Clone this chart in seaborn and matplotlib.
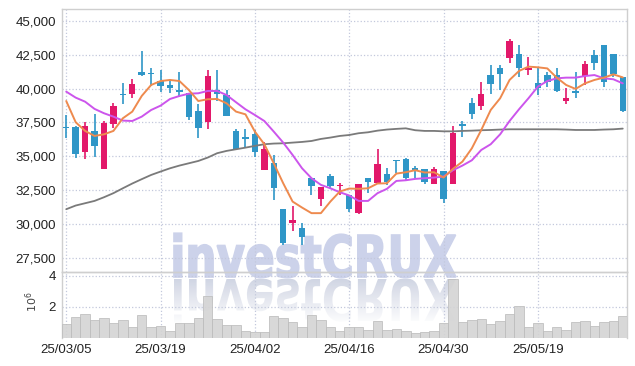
import numpy as np
import pandas as pd
import seaborn as sns
import matplotlib.pyplot as plt
from matplotlib.ticker import FuncFormatter, FixedLocator
from matplotlib.textpath import TextPath
from matplotlib.font_manager import FontProperties
from matplotlib.patches import PathPatch
from matplotlib.transforms import Affine2D

# daily candles, 2025-03-05 .. 2025-05-30 (trading days)
opens = [37150, 37150, 35360, 36880, 34060, 37370, 39570, 39570, 41210, 41120,
         40550, 40280, 39920, 39670, 38350, 37560, 39890, 39520, 36880, 36440,
         36660, 34040, 34530, 31150, 30140, 29720, 33400, 31860, 33550, 32810,
         32170, 30830, 33400, 33080, 33690, 34700, 34820, 34130, 34090, 33010,
         33940, 33010, 37370, 38910, 38720, 40990, 41480, 42270, 42510, 41340,
         40380, 40990, 40990, 39110, 39790, 40920, 42460, 43200, 42540, 40850]
closes = [37100, 35160, 37250, 35800, 37470, 38740, 39520, 40330, 40990, 41070,
          40210, 40060, 39770, 37930, 37120, 40920, 39570, 38000, 35580, 36270,
          35310, 35560, 32660, 28620, 30340, 29110, 32860, 32760, 32860, 32910,
          31150, 32960, 33150, 34450, 33150, 34650, 33400, 33990, 33150, 34090,
          31860, 36710, 37250, 38150, 39600, 40310, 41090, 43490, 41480, 41480,
          40060, 40500, 39820, 39280, 39670, 41800, 41900, 40500, 41070, 38350]
highs = [38050, 37250, 37560, 38150, 37610, 38910, 40430, 40680, 42760, 41480,
         41360, 40630, 41240, 39700, 38840, 41360, 41360, 39890, 37000, 37000,
         36950, 36050, 35110, 31150, 31320, 30090, 33450, 32760, 33690, 33080,
         32170, 32960, 33400, 35530, 34180, 34700, 34870, 34330, 34090, 34260,
         33940, 37270, 37610, 39330, 40500, 41730, 41730, 43640, 43200, 42340,
         41480, 41240, 41480, 40060, 41190, 42020, 42830, 43200, 42540, 40850]
lows = [36340, 34870, 34820, 34940, 34060, 37070, 38840, 39280, 40950, 40210,
        39720, 39650, 39400, 37660, 36340, 37030, 39080, 38000, 35580, 35730,
        34990, 34040, 31780, 28500, 29480, 28500, 32170, 31320, 32660, 32170,
        30950, 30750, 32300, 33080, 32910, 33770, 33280, 33450, 32960, 32960,
        31560, 33010, 36460, 37760, 38420, 39600, 39890, 41850, 40850, 40990,
        39520, 40140, 39720, 38840, 39280, 40260, 41360, 40090, 40870, 38300]

ma5 = [39080, 37520, 36880, 36510, 36630, 36880, 37810, 38300, 39450, 40260,
       40550, 40630, 40550, 39890, 39080, 39210, 39230, 38910, 38300, 38100,
       36830, 35900, 34500, 33030, 31680, 31240, 30830, 30830, 31680, 32420,
       32640, 32620, 32660, 33010, 33030, 33740, 33840, 33990, 33820, 33840,
       33450, 34090, 34620, 35600, 36950, 38420, 39280, 40630, 41290, 41610,
       41560, 41480, 40800, 40260, 39970, 40380, 40630, 40800, 41040, 40820]
ma20 = [39770, 39330, 39030, 38500, 38180, 37930, 37640, 37610, 37930, 38420,
        38740, 39230, 39450, 39620, 39650, 39820, 39820, 39520, 38990, 38470,
        38050, 37610, 36830, 36020, 35110, 34130, 33400, 32910, 32660, 32370,
        32130, 31730, 31730, 32300, 32620, 33200, 33250, 33350, 33400, 33450,
        33520, 33990, 34330, 34720, 35480, 35900, 36630, 37610, 38470, 39280,
        40140, 40550, 40750, 40800, 40800, 40920, 40990, 40750, 40680, 40380]
ma60 = [31120, 31390, 31560, 31730, 32000, 32300, 32660, 33010, 33330, 33640,
        33890, 34130, 34330, 34500, 34670, 34920, 35240, 35410, 35530, 35650,
        35780, 35900, 35950, 35970, 36020, 36070, 36140, 36290, 36390, 36510,
        36580, 36710, 36780, 36900, 36980, 37030, 37070, 36930, 36880, 36880,
        36850, 36850, 36880, 36900, 36930, 36950, 36980, 37000, 37000, 37000,
        37000, 37000, 37000, 36980, 36950, 36950, 36950, 36980, 37000, 37050]

# volume in millions of shares
volume = [0.88, 1.38, 1.53, 1.19, 1.31, 0.95, 1.19, 0.73, 1.51, 0.69,
          0.80, 0.43, 0.99, 0.99, 1.31, 2.73, 1.25, 0.86, 0.86, 0.47,
          0.41, 0.37, 1.44, 1.31, 1.06, 0.73, 1.51, 1.19, 0.69, 0.43,
          0.73, 0.73, 0.53, 1.12, 0.53, 0.60, 0.47, 0.35, 0.41, 0.47,
          0.99, 3.83, 1.06, 1.19, 1.25, 0.93, 1.12, 1.57, 2.09, 0.73,
          0.99, 0.47, 0.73, 0.53, 1.06, 1.12, 0.80, 1.06, 1.12, 1.44]

tick_days = [0, 10, 20, 30, 40, 50]
tick_labels = ['25/03/05', '25/03/19', '25/04/02', '25/04/16', '25/04/30', '25/05/19']
price_ticks = [27500, 30000, 32500, 35000, 37500, 40000, 42500, 45000]

df = pd.DataFrame({'day': np.arange(len(opens)), 'open': opens, 'high': highs,
                   'low': lows, 'close': closes, 'ma5': ma5, 'ma20': ma20,
                   'ma60': ma60, 'volume': volume})

sns.set_theme(style='white')
plt.rcParams['font.family'] = ['Liberation Sans', 'DejaVu Sans']

UP, DOWN = '#e2186a', '#2f96c7'
GRID = '#c3c8dc'
SPINE = '#cfcfcf'
W, H = 635, 366

fig = plt.figure(figsize=(W / 100, H / 100), dpi=100)
fig.patch.set_facecolor('white')

# watermark layer (pixel coords)
ax_wm = fig.add_axes([0, 0, 1, 1], zorder=0)
ax_wm.set_xlim(0, W)
ax_wm.set_ylim(0, H)
ax_wm.axis('off')

tp = TextPath((0, 0), 'investCRUX', size=100,
              prop=FontProperties(family='DejaVu Sans', weight='bold'))
bb = tp.get_extents()
sx = 282 / bb.width
sy = 42 / 72.9
main_path = Affine2D().translate(-bb.x0, 0).scale(sx, sy).translate(174, H - 277).transform_path(tp)
ax_wm.add_patch(PathPatch(main_path, facecolor='#ccd2ea', edgecolor='#ccd2ea', lw=1.2))

refl_path = Affine2D().translate(-bb.x0, 0).scale(sx, -sy).translate(174, H - 279).transform_path(tp)
grad = np.zeros((60, 1, 4))
grad[..., 0], grad[..., 1], grad[..., 2] = 0.81, 0.83, 0.89
grad[:, 0, 3] = np.linspace(0.95, 0.0, 60)
im = ax_wm.imshow(grad, extent=[165, 465, H - 279 - 46, H - 279], aspect='auto',
                  origin='upper', interpolation='bilinear')
im.set_clip_path(refl_path, ax_wm.transData)

# price panel
ax = fig.add_axes([62 / W, 1 - 272 / H, 565 / W, 263 / H], zorder=1)
axv = fig.add_axes([62 / W, 1 - 338 / H, 565 / W, 66 / H], zorder=1)
for a in (ax, axv):
    a.patch.set_alpha(0)

up = df['close'] >= df['open']
colors = np.where(up, UP, DOWN)
ax.vlines(df['day'], df['low'], df['high'], colors=colors, lw=1.2, zorder=3)
body = (df['close'] - df['open']).abs().clip(lower=80)
ax.bar(df['day'], body, bottom=df[['open', 'close']].min(axis=1), width=0.68,
       color=colors, linewidth=0, zorder=4)

sns.lineplot(data=df, x='day', y='ma60', ax=ax, color='#7a7a7a', lw=1.3, zorder=5)
sns.lineplot(data=df, x='day', y='ma20', ax=ax, color='#cc55ec', lw=1.4, zorder=5)
sns.lineplot(data=df, x='day', y='ma5', ax=ax, color='#ee8a4e', lw=1.4, zorder=6)

ax.set_xlim(-0.45, 59.45)
ax.set_ylim(26500, 45850)
ax.yaxis.set_major_locator(FixedLocator(price_ticks))
ax.yaxis.set_major_formatter(FuncFormatter(lambda v, p: f'{v:,.0f}'))
ax.xaxis.set_major_locator(FixedLocator(tick_days))
ax.set_xticklabels([])
ax.set_xlabel('')
ax.set_ylabel('')
ax.grid(True, color=GRID, ls=':', lw=0.9)
ax.tick_params(axis='both', length=0, pad=4.5, labelsize=9.5, colors='#222222')
for s in ax.spines.values():
    s.set_color(SPINE)
    s.set_linewidth(1.0)

# volume panel
sns.barplot(data=df, x='day', y='volume', ax=axv, native_scale=True, width=1.0,
            color='#d4d4d4', saturation=1, edgecolor='#bcbcbc', linewidth=0.6,
            alpha=0.9, zorder=3)
axv.set_xlim(-0.45, 59.45)
axv.set_ylim(0, 4.25)
axv.yaxis.set_major_locator(FixedLocator([2, 4]))
axv.yaxis.set_major_formatter(FuncFormatter(lambda v, p: f'{v:.0f}'))
axv.xaxis.set_major_locator(FixedLocator(tick_days))
axv.set_xticklabels(tick_labels)
axv.set_xlabel('')
axv.set_ylabel('')
axv.grid(True, color=GRID, ls=':', lw=0.9)
axv.tick_params(axis='y', length=0, pad=4.5, labelsize=9.5, colors='#222222')
axv.tick_params(axis='x', length=0, pad=4, labelsize=9.5, colors='#222222')
for s in axv.spines.values():
    s.set_color(SPINE)
    s.set_linewidth(1.0)
axv.spines['bottom'].set_visible(False)

fig.text(32 / W, 1 - 302 / H, r'$10^6$', rotation=90, ha='center', va='center',
         fontsize=8, color='#444444')

fig.savefig('out.png', dpi=100)
